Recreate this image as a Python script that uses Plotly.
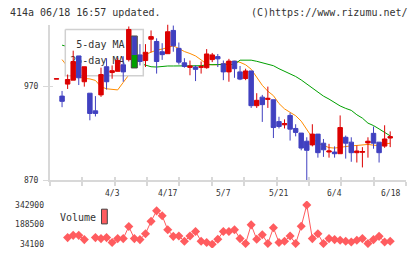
import plotly.graph_objects as go

W, H = 420, 259

# ---------------- data ----------------
idx = list(range(61))
opens = [978.0, 959.9, 972.7, 976.9, 1002.7, 975.2, 963.0, 944.2, 961.2, 991.2,
         985.0, 986.3, 993.3, 998.8, 1023.3, 1003.8, 997.8, 1020.5, 1018.1, 1007.2,
         1005.1, 1029.9, 1010.8, 995.4, 990.5, 990.9, 990.5, 990.2, 998.8, 1002.0,
         994.4, 985.7, 997.2, 985.7, 978.7, 986.7, 949.7, 958.8, 956.4, 956.0,
         932.7, 929.3, 939.3, 925.4, 920.5, 911.8, 907.9, 919.4, 909.7, 900.3,
         900.3, 898.5, 916.0, 910.8, 899.6, 900.0, 910.0, 920.2, 910.8, 906.6, 915.2]
highs = [978.4, 965.4, 982.9, 1008.3, 1002.7, 991.2, 963.0, 959.9, 990.2, 1000.3,
         992.6, 1000.3, 1002.4, 1034.1, 1023.3, 1015.3, 1015.3, 1029.9, 1021.5, 1016.3,
         1036.2, 1035.1, 1017.0, 1000.3, 997.8, 992.6, 996.8, 1010.0, 1005.9, 1004.8,
         997.8, 999.6, 997.2, 992.0, 989.1, 986.7, 963.0, 961.2, 970.0, 956.0,
         937.9, 935.1, 942.1, 929.9, 920.5, 916.0, 929.9, 919.4, 914.2, 909.0,
         906.3, 939.3, 917.8, 916.0, 907.3, 905.5, 916.0, 927.5, 910.8, 928.8, 922.3]
lows = [978.0, 948.1, 967.5, 976.9, 971.7, 970.0, 934.1, 938.2, 959.1, 966.9,
        978.4, 986.3, 975.2, 996.8, 1003.8, 992.6, 990.9, 1006.6, 983.9, 998.5,
        1005.1, 1007.2, 993.6, 990.2, 982.1, 975.9, 983.9, 989.1, 996.1, 990.9,
        976.9, 975.2, 979.4, 976.9, 976.9, 947.3, 947.3, 932.4, 947.3, 915.2,
        925.4, 925.4, 912.5, 917.0, 902.1, 870.0, 906.3, 894.3, 895.1, 894.3,
        894.3, 898.5, 893.3, 889.9, 889.1, 883.9, 894.3, 903.8, 889.1, 904.8, 905.5]
closes = [978.4, 954.3, 977.6, 996.8, 979.4, 991.2, 941.4, 941.4, 982.9, 975.2,
          987.0, 997.8, 985.7, 1030.9, 1003.8, 996.8, 1006.6, 1023.3, 996.8, 1004.1,
          1028.5, 1013.5, 996.1, 991.5, 992.0, 988.4, 991.5, 1004.8, 1003.8, 999.6,
          985.7, 997.2, 989.1, 978.0, 986.7, 949.7, 955.4, 950.8, 957.5, 926.4,
          927.5, 930.6, 924.7, 921.2, 904.5, 902.1, 919.4, 899.6, 902.7, 901.4,
          898.5, 926.4, 909.7, 899.6, 901.4, 900.8, 911.8, 909.7, 899.6, 914.2, 916.7]

ma5 = [None, 998.8, 991.2, 985.0, 980.2, 978.7, 978.2, 976.6, 969.8, 967.7,
       966.7, 966.5, 974.5, 982.3, 991.2, 998.5, 1004.3, 1006.9, 1009.0, 1010.0,
       1011.6, 1013.5, 1010.6, 1007.4, 1005.3, 1002.7, 998.5, 994.0, 993.3, 993.3,
       994.4, 995.9, 997.2, 995.9, 993.3, 988.6, 979.7, 971.4, 965.1, 960.4,
       952.0, 946.3, 942.6, 939.0, 933.2, 924.9, 915.5, 909.7, 907.1, 905.0,
       904.5, 905.5, 906.1, 906.9, 907.3, 908.1, 908.4, 907.6, 907.1, 908.7, 909.7]
ma25 = [None, 1014.2, 1012.6, None, None, None, None, None, None, None,
        None, None, None, None, 996.4, 994.4, 992.8, 991.2, 990.9, 991.7,
        992.0, 992.0, 992.0, 992.0, 992.0, 992.0, 992.3, 993.3, 993.6, 993.6,
        993.6, 993.6, 993.6, 998.2, 998.2, 998.2, 997.0, 995.4, 994.4, 992.3,
        989.1, 986.5, 983.9, 980.8, 977.1, 972.9, 968.8, 964.6, 959.9, 956.7,
        953.1, 949.4, 946.8, 944.7, 940.0, 936.4, 931.1, 928.5, 924.9, 921.2, 917.5]

volume = [None, None, 85800, 103600, 103600, 70400, None, 85800, 78100, 85800,
          47200, 78100, 78100, 173000, 78100, 70400, 116700, 214000, 296600, 258000,
          147600, 95900, 98200, 57300, 98200, 134500, 57300, 47200, 34100, 72700,
          134500, 134500, 147600, 78100, 39500, 186200, 72700, 109000, 39500, 163000,
          47200, 57300, 98200, 39500, 175400, 342900, 78100, 116700, 39500, 78100,
          70400, 65000, 57300, 51900, 65000, 78100, 39500, 70400, 95900, 51900, 57300]

date_pos = [10, 20, 30, 40, 50, 60]
date_labels = ["4/3", "4/17", "5/7", "5/21", "6/4", "6/18"]
price_ticks = [870, 970]
vol_ticks = [34100, 188500, 342900]
legend_names = ["5-day MA", "25-day MA"]

# ---------------- styling / geometry ----------------
FONT = "DejaVu Sans Mono"
RED, BLUE = "#dc0000", "#4040c0"
ORANGE, GREEN = "#ff8c00", "#00a000"
VOLC = "#ff5c5f"
AX = "#d8d8d8"
TXT = "#333333"

PL, PR, PT, PB = 50, 406, 25, 184          # price panel in px
VT, VB = 205, 253                           # volume panel in px
XR = [-1.169, 62.84]
YR = [870, 1036.2]
VR = [3220, 373780]

def fx(px):
    return px / W

def fy(py):
    return 1 - py / H

fig = go.Figure()

# moving averages (main subplot)
fig.add_trace(go.Scatter(x=idx, y=ma5, mode="lines", line=dict(color=ORANGE, width=1),
                         connectgaps=False, hoverinfo="skip", showlegend=False))
fig.add_trace(go.Scatter(x=idx, y=ma25, mode="lines", line=dict(color=GREEN, width=1),
                         connectgaps=False, hoverinfo="skip", showlegend=False))

# legend box (pixel overlay, above lines, below candles)
bx0, bx1, by0, by1 = 65.3, 143.3, 30, 77.3
fig.add_trace(go.Scatter(x=[bx0, bx1, bx1, bx0, bx0], y=[by0, by0, by1, by1, by0],
                         mode="lines", fill="toself", fillcolor="white",
                         line=dict(color="#d0d0d0", width=1.5),
                         xaxis="x3", yaxis="y3", hoverinfo="skip", showlegend=False))
fig.add_trace(go.Scatter(x=[124.5, 124.5], y=[46, 62.7], mode="text",
                         text=legend_names, textposition="middle left",
                         textfont=dict(family=FONT, size=10, color=TXT),
                         xaxis="x3", yaxis="y3", hoverinfo="skip", showlegend=False))

# candles (overlay above lines and legend)
fig.add_trace(go.Candlestick(x=idx, open=opens, high=highs, low=lows, close=closes,
                             increasing=dict(line=dict(color=RED, width=1), fillcolor=RED),
                             decreasing=dict(line=dict(color=BLUE, width=1), fillcolor=BLUE),
                             whiskerwidth=0, xaxis="x4", yaxis="y4",
                             hoverinfo="skip", showlegend=False))

# volume
fig.add_trace(go.Scatter(x=idx, y=volume, mode="lines+markers",
                         line=dict(color=VOLC, width=1),
                         marker=dict(symbol="diamond", size=7, color=VOLC),
                         connectgaps=False, xaxis="x2", yaxis="y2",
                         hoverinfo="skip", showlegend=False))

xdom = [fx(PL), fx(PR)]
tick_px = [PL + k * (PR - PL) / 11 for k in range(12)]
tick_idx = [XR[0] + (p - PL) / (PR - PL) * (XR[1] - XR[0]) for p in tick_px]

fig.update_layout(
    width=W, height=H, autosize=False,
    margin=dict(l=0, r=0, t=0, b=0, pad=0),
    paper_bgcolor="white", plot_bgcolor="white",
    boxgap=0.2, boxgroupgap=0,
    showlegend=False,
    xaxis=dict(domain=xdom, range=XR, anchor="y", showgrid=False, zeroline=False,
               showline=True, linecolor=AX, linewidth=2, ticks="outside", ticklen=4,
               tickcolor=AX, tickwidth=2, tickvals=tick_idx, showticklabels=False,
               fixedrange=True),
    yaxis=dict(domain=[fy(PB), fy(PT)], range=YR, anchor="x", showgrid=False, zeroline=False,
               showline=True, linecolor=AX, linewidth=2, ticks="outside", ticklen=5,
               tickcolor=AX, tickwidth=1, tickvals=price_ticks,
               ticktext=[str(v) for v in price_ticks],
               tickfont=dict(family=FONT, size=8, color=TXT), ticklabelstandoff=3,
               fixedrange=True),
    xaxis3=dict(overlaying="x", anchor="y3", range=[PL, PR], showgrid=False, zeroline=False,
                showline=False, ticks="inside", ticklen=3, tickcolor=AX, tickwidth=2,
                tickvals=tick_px, showticklabels=False, fixedrange=True),
    yaxis3=dict(overlaying="y", anchor="x3", range=[PB, PT], showgrid=False, zeroline=False,
                showline=False, ticks="", showticklabels=False, fixedrange=True),
    xaxis4=dict(overlaying="x", anchor="y4", range=XR, showgrid=False, zeroline=False,
                showline=False, ticks="", showticklabels=False, fixedrange=True,
                rangeslider=dict(visible=False)),
    yaxis4=dict(overlaying="y", anchor="x4", range=YR, showgrid=False, zeroline=False,
                showline=False, ticks="inside", ticklen=3, tickcolor=AX, tickwidth=1,
                tickvals=price_ticks, showticklabels=False, fixedrange=True),
    xaxis2=dict(domain=xdom, range=XR, anchor="y2", showgrid=False, zeroline=False,
                showline=False, ticks="", showticklabels=False, fixedrange=True),
    yaxis2=dict(domain=[fy(VB), fy(VT)], range=VR, anchor="x2", showgrid=False,
                zeroline=False, showline=False, ticks="", tickvals=vol_ticks,
                ticktext=[str(v) for v in vol_ticks],
                tickfont=dict(family=FONT, size=8, color=TXT), ticklabelstandoff=5,
                fixedrange=True),
)
fig.update_xaxes(rangeslider_visible=False)

annotations = [
    dict(text="414a 06/18 16:57 updated.", x=fx(8), y=fy(13), xref="paper", yref="paper",
         xanchor="left", yanchor="middle", showarrow=False,
         font=dict(family=FONT, size=10, color=TXT)),
    dict(text="(C)https://www.rizumu.net/", x=fx(410), y=fy(13), xref="paper", yref="paper",
         xanchor="right", yanchor="middle", showarrow=False,
         font=dict(family=FONT, size=10, color=TXT)),
    dict(text="Volume", x=fx(58), y=fy(222), xref="paper", yref="paper",
         xanchor="left", yanchor="middle", showarrow=False,
         font=dict(family=FONT, size=10, color=TXT)),
]
for p, lab in zip(date_pos, date_labels):
    annotations.append(dict(text=lab, x=p, y=fy(197.5), xref="x", yref="paper",
                            xanchor="center", yanchor="middle", showarrow=False,
                            font=dict(family=FONT, size=8, color=TXT)))
fig.update_layout(annotations=annotations)

shapes = [
    # legend swatches (drawn above candles)
    dict(type="rect", xref="x3", yref="y3", x0=131.3, x1=137.3, y0=56, y1=69.3,
         fillcolor=GREEN, line=dict(width=0), layer="above"),
    dict(type="rect", xref="x3", yref="y3", x0=131.3, x1=137.3, y0=36.7, y1=69.3,
         fillcolor="rgba(0,0,0,0)", line=dict(color="#444444", width=1), layer="above"),
    # volume legend swatch
    dict(type="rect", xref="paper", yref="paper", x0=fx(101.5), x1=fx(107.3),
         y0=fy(228.3), y1=fy(213.3), fillcolor=VOLC,
         line=dict(color="#444444", width=1), layer="above"),
]
fig.update_layout(shapes=shapes)

fig.write_html("out.html", config={"displayModeBar": False, "staticPlot": True})
